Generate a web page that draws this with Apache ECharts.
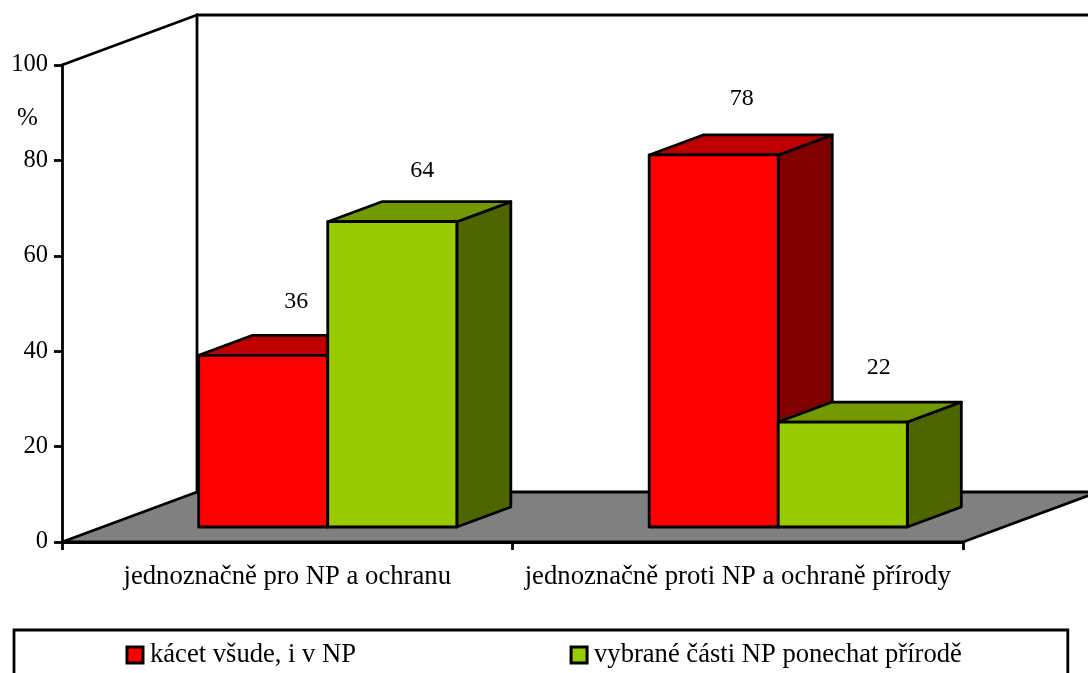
<!DOCTYPE html>
<html>
<head>
<meta charset="utf-8">
<style>
    html, body { margin: 0; padding: 0; background: #fff; overflow: hidden; }
    #main { width: 1088px; height: 673px; }
</style>
</head>
<body>
<div id="main"></div>
<script src="https://cdn.jsdelivr.net/npm/echarts@6/dist/echarts.min.js"></script>
<script>
    var categories = ['jednoznačně pro NP a ochranu', 'jednoznačně proti NP a ochraně přírody'];
    var seriesNames = ['kácet všude, i v NP', 'vybrané části NP ponechat přírodě'];
    var valuesRed = [36, 78];
    var valuesGreen = [64, 22];
    var yTicks = [0, 20, 40, 60, 80, 100];

    var FONT = '"Liberation Serif", "Times New Roman", serif';
    // posun hloubky: zadni stena, predni rovina sloupcu, hloubka sloupce
    var WALL = [135, -50];
    var FRONT = [40.5, -15];
    var DEPTH = [54, -20];
    var BAR_RATIO = 0.2865;
    var LINE = 2.8;
    var LABEL_SHIFT = [30, -55];
    // doladeni popisku po serii a kategorii
    var NUDGE_RED = [[3, 1], [-2, -1]];
    var NUDGE_GREEN = [[0, 4], [6, 1]];

    var myChart = echarts.init(document.getElementById('main'));

    function shift(p, d) {
        return [p[0] + d[0], p[1] + d[1]];
    }

    function poly(points, fill) {
        return {
            type: 'polygon',
            shape: { points: points },
            style: { fill: fill, stroke: '#000', lineWidth: LINE, lineJoin: 'round' }
        };
    }

    function line(a, b) {
        return {
            type: 'line',
            shape: { x1: a[0], y1: a[1], x2: b[0], y2: b[1] },
            style: { stroke: '#000', lineWidth: LINE, lineCap: 'round' }
        };
    }

    function renderFrame(params, api) {
        var band = api.size([1, 0])[0];
        var o = api.coord([0, 0]);
        var origin = [o[0] - band / 2, o[1]];
        var end = [origin[0] + band * categories.length, o[1]];
        var t = api.coord([0, yTicks[yTicks.length - 1]]);
        var top = [origin[0], t[1]];
        return {
            type: 'group',
            children: [
                poly([origin, shift(origin, WALL), shift(end, WALL), end], '#808080'),
                line(top, shift(top, WALL)),
                line(shift(top, WALL), shift(origin, WALL)),
                line(shift(top, WALL), [api.getWidth(), top[1] + WALL[1]])
            ]
        };
    }

    function makeBarRenderer(slot, nudge, front, topFace, side) {
        return function (params, api) {
            var band = api.size([1, 0])[0];
            var w = band * BAR_RATIO;
            var base = shift(api.coord([api.value(0), 0]), FRONT);
            var head = shift(api.coord([api.value(0), api.value(1)]), FRONT);
            var x0 = base[0] + slot * w;
            var x1 = x0 + w;
            var a = [x0, head[1]], b = [x1, head[1]], c = [x1, base[1]], d = [x0, base[1]];
            var n = nudge[params.dataIndex];
            return {
                type: 'group',
                children: [
                    poly([b, c, shift(c, DEPTH), shift(b, DEPTH)], side),
                    poly([a, b, shift(b, DEPTH), shift(a, DEPTH)], topFace),
                    poly([a, b, c, d], front),
                    {
                        type: 'text',
                        style: {
                            x: (x0 + x1) / 2 + LABEL_SHIFT[0] + n[0],
                            y: head[1] + LABEL_SHIFT[1] + n[1],
                            text: String(api.value(1)),
                            fill: '#000',
                            font: '24px ' + FONT,
                            align: 'center',
                            verticalAlign: 'middle'
                        }
                    }
                ]
            };
        };
    }

    function toPairs(values) {
        return values.map(function (v, i) { return [i, v]; });
    }

    var option = {
        animation: false,
        backgroundColor: '#fff',
        textStyle: { fontFamily: FONT },
        grid: { left: 62, top: 65, width: 901, height: 477 },
        legend: {
            data: seriesNames,
            orient: 'horizontal',
            left: 14,
            top: 630,
            padding: [11.5, 106, 40, 111.5],
            itemGap: 213.5,
            itemWidth: 16,
            itemHeight: 16,
            icon: 'rect',
            borderColor: '#000',
            borderWidth: LINE,
            itemStyle: { borderColor: '#000', borderWidth: 3 },
            textStyle: { fontFamily: FONT, fontSize: 26.6, color: '#000', padding: [0, 0, 0, 2] }
        },
        xAxis: {
            type: 'category',
            data: categories,
            axisLine: { lineStyle: { color: '#000', width: LINE } },
            axisTick: { show: true, length: 8, alignWithLabel: false, lineStyle: { color: '#000', width: LINE } },
            axisLabel: { color: '#000', fontFamily: FONT, fontSize: 26.7, margin: 21, interval: 0 },
            splitLine: { show: false }
        },
        yAxis: {
            type: 'value',
            min: 0,
            max: 100,
            interval: 20,
            axisLine: { show: true, lineStyle: { color: '#000', width: LINE } },
            axisTick: { show: true, length: 8, lineStyle: { color: '#000', width: LINE } },
            axisLabel: { color: '#000', fontFamily: FONT, fontSize: 24.5, margin: 14 },
            splitLine: { show: false }
        },
        graphic: [{
            type: 'text',
            left: 17,
            top: 106,
            style: { text: '%', fill: '#000', font: '25px ' + FONT }
        }],
        series: [
            {
                type: 'custom',
                name: 'frame',
                data: [[0, 0]],
                silent: true,
                renderItem: renderFrame
            },
            {
                type: 'custom',
                name: seriesNames[0],
                data: toPairs(valuesRed),
                itemStyle: { color: '#ff0000' },
                renderItem: makeBarRenderer(-1, NUDGE_RED, '#ff0000', '#bf0000', '#800000')
            },
            {
                type: 'custom',
                name: seriesNames[1],
                data: toPairs(valuesGreen),
                itemStyle: { color: '#99cc00' },
                renderItem: makeBarRenderer(0, NUDGE_GREEN, '#99cc00', '#739900', '#4d6600')
            }
        ]
    };
    myChart.setOption(option);
</script>
</body>
</html>
